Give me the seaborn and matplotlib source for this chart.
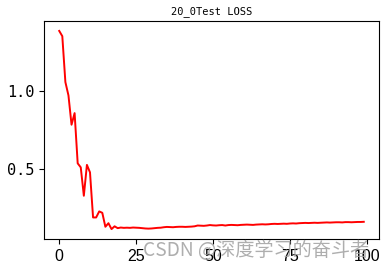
import numpy as np
import pandas as pd
import matplotlib
matplotlib.use("Agg")
import matplotlib.pyplot as plt
import seaborn as sns

title = "20_0Test LOSS"
watermark = "CSDN @深度学习的奋斗者"
loss = [
    1.390, 1.356, 1.060, 0.974, 0.785, 0.860, 0.536, 0.510, 0.327, 0.526,
    0.478, 0.187, 0.187, 0.226, 0.217, 0.127, 0.150, 0.112, 0.130, 0.118,
    0.122, 0.120, 0.121, 0.120, 0.122, 0.121, 0.120, 0.118, 0.116, 0.115,
    0.116, 0.118, 0.120, 0.121, 0.124, 0.126, 0.125, 0.124, 0.126, 0.127,
    0.127, 0.126, 0.127, 0.128, 0.130, 0.135, 0.134, 0.133, 0.135, 0.138,
    0.136, 0.135, 0.137, 0.138, 0.135, 0.138, 0.139, 0.138, 0.137, 0.139,
    0.140, 0.141, 0.140, 0.139, 0.141, 0.142, 0.143, 0.142, 0.143, 0.145,
    0.146, 0.145, 0.146, 0.147, 0.146, 0.148, 0.149, 0.148, 0.150, 0.151,
    0.152, 0.151, 0.152, 0.153, 0.152, 0.153, 0.154, 0.155, 0.154, 0.155,
    0.156, 0.156, 0.155, 0.157, 0.157, 0.156, 0.157, 0.158, 0.158, 0.159,
]
epochs = list(range(len(loss)))
df = pd.DataFrame({"epoch": epochs, "loss": loss})

fig = plt.figure(figsize=(3.89, 2.68), dpi=100)
ax = fig.add_axes([44 / 389, 1 - 239 / 268, (379 - 44) / 389, (239 - 21) / 268])
sns.lineplot(data=df, x="epoch", y="loss", color="red", linewidth=1.4, ax=ax)
ax.set_xlabel("")
ax.set_ylabel("")
ax.set_xticks([0, 25, 50, 75, 100])
ax.set_yticks([0.5, 1.0])
ax.set_title(title, fontsize=7.5, family="DejaVu Sans Mono", pad=5)
for lab in ax.get_xticklabels():
    lab.set_fontfamily("Liberation Sans")
    lab.set_fontsize(11.5)
for lab in ax.get_yticklabels():
    lab.set_fontfamily("DejaVu Sans Mono")
    lab.set_fontsize(11)
fig.text(143 / 389, 1 - 250 / 268, watermark, fontsize=13.8,
         family=["Noto Sans CJK SC", "DejaVu Sans"], color="#a0a0a0", alpha=0.85,
         va="center", ha="left")
fig.savefig("out.png", dpi=100)
